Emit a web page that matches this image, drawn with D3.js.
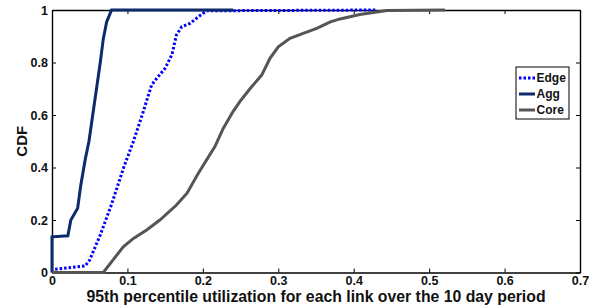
<!DOCTYPE html>
<html>
<head>
<meta charset="utf-8">
<script src="https://cdn.jsdelivr.net/npm/d3@7"></script>
<style>
  body { margin: 0; background: #fff; }
  svg text { font-family: Arial, "Liberation Sans", Helvetica, sans-serif; font-weight: bold; }
</style>
</head>
<body>
<div id="vis"></div>
<script>
// series
var seriesNames = ["Edge", "Agg", "Core"];

var edgeX = [0, 0.004, 0.044, 0.05, 0.064, 0.079, 0.095, 0.108, 0.121, 0.132, 0.139, 0.15, 0.159, 0.165, 0.172, 0.183, 0.194, 0.205, 0.43];
var edgeY = [0, 0.012, 0.025, 0.048, 0.143, 0.26, 0.40, 0.50, 0.613, 0.714, 0.74, 0.778, 0.83, 0.905, 0.936, 0.949, 0.974, 0.997, 1.0];

var aggX = [0, 0, 0.021, 0.025, 0.034, 0.038, 0.044, 0.049, 0.059, 0.064, 0.068, 0.0725, 0.079, 0.24];
var aggY = [0, 0.136, 0.14, 0.2, 0.245, 0.33, 0.43, 0.5, 0.70, 0.80, 0.89, 0.955, 1.0, 1.0];

var coreX = [0, 0.068, 0.081, 0.0945, 0.108, 0.1255, 0.143, 0.165, 0.179, 0.194, 0.216, 0.227, 0.24, 0.249, 0.263, 0.278, 0.289, 0.30, 0.3155, 0.333, 0.351, 0.369, 0.382, 0.408, 0.444, 0.521];
var coreY = [0, 0, 0.048, 0.098, 0.13, 0.162, 0.2, 0.257, 0.302, 0.378, 0.48, 0.549, 0.613, 0.651, 0.702, 0.752, 0.816, 0.86, 0.892, 0.911, 0.93, 0.955, 0.966, 0.983, 0.998, 1.0];

var xTicks = [0, 0.1, 0.2, 0.3, 0.4, 0.5, 0.6, 0.7];
var yTicks = [0, 0.2, 0.4, 0.6, 0.8, 1];

var width = 597, height = 308;
var margin = {top: 10, right: 17, bottom: 35.5, left: 52};
var w = width - margin.left - margin.right;
var h = height - margin.top - margin.bottom;

var x = d3.scaleLinear().domain([0, 0.7]).range([0, w]);
var y = d3.scaleLinear().domain([0, 1]).range([h, 0]);

var svg = d3.select("#vis").append("svg")
    .attr("width", width)
    .attr("height", height);

var chart = svg.append("g")
    .attr("transform", "translate(" + margin.left + "," + margin.top + ")");

function fmt(d) { return d === 0 || d === 1 ? String(d) : d3.format(".1f")(d); }

function zip(xs, ys) {
    return xs.map(function(v, i) { return [v, ys[i]]; });
}

var series = [
    {name: "Edge", pts: zip(edgeX, edgeY), color: "#0000ff", width: 3, dash: "2.5,2"},
    {name: "Agg", pts: zip(aggX, aggY), color: "#0c2a6c", width: 3, dash: null},
    {name: "Core", pts: zip(coreX, coreY), color: "#555555", width: 3, dash: null}
];

// axes, ticks pointing inward, box all round
var axBottom = chart.append("g").attr("transform", "translate(0," + h + ")")
    .call(d3.axisBottom(x).tickValues(xTicks).tickFormat(fmt).tickSizeInner(-4).tickSizeOuter(0).tickPadding(4));
var axLeft = chart.append("g")
    .call(d3.axisLeft(y).tickValues(yTicks).tickFormat(fmt).tickSizeInner(-4).tickSizeOuter(0).tickPadding(4));
var axTop = chart.append("g")
    .call(d3.axisTop(x).tickValues(xTicks).tickFormat("").tickSizeInner(-4).tickSizeOuter(0));
var axRight = chart.append("g").attr("transform", "translate(" + w + ",0)")
    .call(d3.axisRight(y).tickValues(yTicks).tickFormat("").tickSizeInner(-4).tickSizeOuter(0));

[axBottom, axLeft, axTop, axRight].forEach(function(a) {
    a.select(".domain").attr("stroke", "#000").attr("stroke-width", 1.4);
    a.selectAll(".tick line").attr("stroke", "#000").attr("stroke-width", 1);
    a.selectAll("text").attr("font-size", 12.5).attr("fill", "#111")
        .style("font-family", "Arial, 'Liberation Sans', sans-serif");
});

var line = d3.line()
    .x(function(d) { return x(d[0]); })
    .y(function(d) { return y(d[1]); });

series.forEach(function(s) {
    chart.append("path")
        .datum(s.pts)
        .attr("fill", "none")
        .attr("stroke", s.color)
        .attr("stroke-width", s.width)
        .attr("stroke-dasharray", s.dash)
        .attr("d", line);
});

// axis titles
svg.append("text")
    .attr("x", margin.left + w / 2)
    .attr("y", 302)
    .attr("text-anchor", "middle")
    .attr("font-size", 15.8)
    .attr("fill", "#111")
    .text("95th percentile utilization for each link over the 10 day period");

svg.append("text")
    .attr("transform", "translate(27," + (margin.top + h / 2) + ") rotate(-90)")
    .attr("text-anchor", "middle")
    .attr("font-size", 15)
    .attr("fill", "#111")
    .text("CDF");

// legend
var legend = svg.append("g").attr("transform", "translate(516,67)");
legend.append("rect")
    .attr("width", 53)
    .attr("height", 52)
    .attr("fill", "#fff")
    .attr("stroke", "#000")
    .attr("stroke-width", 1);

series.forEach(function(s, i) {
    var yy = 11 + i * 16;
    legend.append("line")
        .attr("x1", 3).attr("x2", 19)
        .attr("y1", yy).attr("y2", yy)
        .attr("stroke", s.color)
        .attr("stroke-width", s.width)
        .attr("stroke-dasharray", s.dash);
    legend.append("text")
        .attr("x", 20.5)
        .attr("y", yy)
        .attr("dy", "0.35em")
        .attr("font-size", 12)
        .attr("fill", "#111")
        .text(s.name);
});
</script>
</body>
</html>
